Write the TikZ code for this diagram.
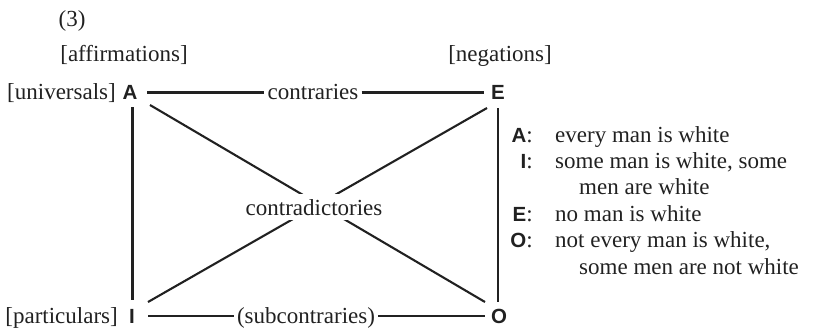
\documentclass[tikz,border=0pt]{standalone}
\usepackage{fontspec}
\setmainfont{Liberation Serif}
\newfontfamily\vfont{Liberation Sans}
\definecolor{ink}{rgb}{0.13,0.13,0.13}
\newcommand{\corner}[1]{{\vfont\bfseries\fontsize{20.5}{22}\selectfont #1}}
\begin{document}
\begin{tikzpicture}[x=1pt,y=-1pt,
  every node/.style={inner sep=0pt,text=ink},
  lbl/.style={font=\fontsize{23}{26}\selectfont},
  vert/.style={font=\vfont\bfseries\fontsize{20.5}{22}\selectfont},
  edge/.style={draw=ink,line width=2.1pt}]
\useasboundingbox (0,0) rectangle (816,330);

% headings
\node[lbl,anchor=base] (num) at (72,26.5) {(3)};
\node[lbl,anchor=base] (aff) at (124,61) {[affirmations]};
\node[lbl,anchor=base] (neg) at (500,61) {[negations]};

% corners of the square
\node[vert] (A) at (130,92.5) {A};
\node[vert] (E) at (498,92.5) {E};
\node[vert] (I) at (132,316) {I};
\node[vert] (O) at (499,316.5) {O};

\node[lbl,anchor=base east] (univ) at (116,99) {[universals]};
\node[lbl,anchor=base east] (part) at (118,323.5) {[particulars]};
\node[lbl,anchor=base] (contr) at (313,99) {contraries};
\node[lbl,anchor=base] (sub) at (306,323.5) {(subcontraries)};

% sides
\draw[edge] ([xshift=17pt]A.center) -- ([xshift=-3pt]contr.west |- A.center);
\draw[edge] ([xshift=3pt]contr.east |- A.center) -- ([xshift=-14pt]E.center |- A.center);
\draw[edge] ([xshift=16pt]I.center) -- ([xshift=-3pt]sub.west |- I.center);
\draw[edge] ([xshift=3pt]sub.east |- I.center) -- ([xshift=-14pt]O.center |- I.center);
\draw[edge] ([shift={(2.5,14.5)}]A.center) -- ([shift={(0.5,-16)}]I.center);
\draw[edge] ([shift={(0,15.5)}]E.center) -- ([shift={(-1,-14.5)}]O.center);

% diagonals
\draw[edge] ([shift={(20,12.5)}]A.center) -- ([shift={(-14,-14.5)}]O.center);
\draw[edge] ([shift={(16,-14)}]I.center) -- ([shift={(-11,15.5)}]E.center);
\node[lbl,anchor=base,fill=white,inner xsep=3pt,inner ysep=5pt,text depth=0pt]
  (cd) at (314,215) {contradictories};

% key
\node[lbl,anchor=base east] (kA) at (533,142) {\corner{A}:};
\node[lbl,anchor=base west] (tA) at (555,142) {every man is white};
\node[lbl,anchor=base east] (kI) at (533,168.4) {\corner{I}:};
\node[lbl,anchor=base west] (tI) at (555,168.4) {some man is white, some};
\node[lbl,anchor=base west] (tI2) at (579,194.8) {men are white};
\node[lbl,anchor=base east] (kE) at (533,221.2) {\corner{E}:};
\node[lbl,anchor=base west] (tE) at (555,221.2) {no man is white};
\node[lbl,anchor=base east] (kO) at (533,247.6) {\corner{O}:};
\node[lbl,anchor=base west] (tO) at (555,247.6) {not every man is white,};
\node[lbl,anchor=base west] (tO2) at (579,274) {some men are not white};
\end{tikzpicture}
\end{document}
